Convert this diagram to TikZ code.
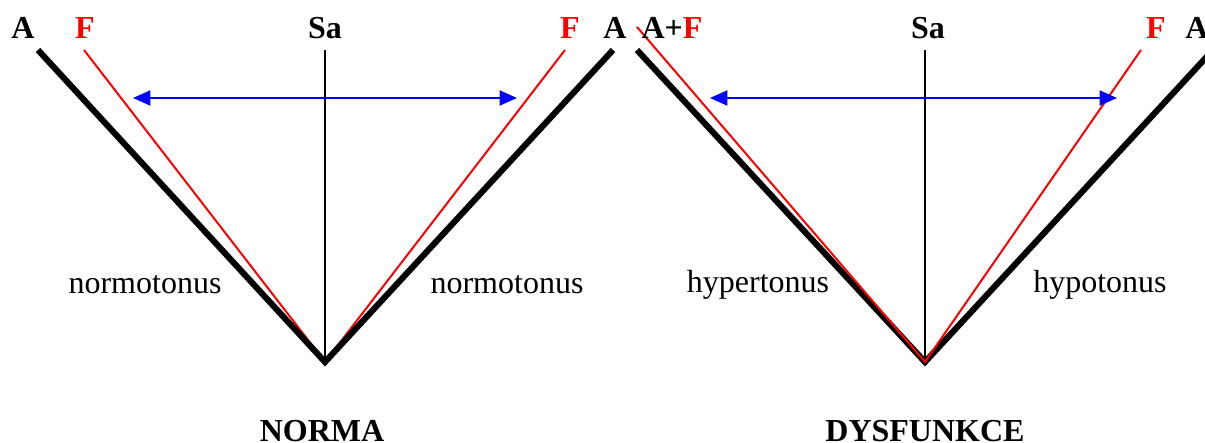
\documentclass[tikz,border=0pt]{standalone}
\usepackage{fontspec}
\setmainfont{Liberation Serif}
\usepackage{xcolor}
\usetikzlibrary{arrows.meta,positioning}

\begin{document}
\begin{tikzpicture}[
  x=0.375pt,y=-0.375pt,
  font=\fontsize{12}{14}\selectfont,
  lbl/.style={font=\fontsize{12}{14}\selectfont\bfseries,inner sep=0pt},
  flbl/.style={lbl,text=red},
  tone/.style={inner sep=0pt},
  muscle/.style={line width=2.3pt,black},
  force/.style={line width=0.75pt,red},
  axis/.style={line width=0.75pt,black},
  span/.style={{Triangle[length=6.5pt,width=5.6pt]}-{Triangle[length=6.5pt,width=5.6pt]},line width=0.8pt,blue},
]
\useasboundingbox (0,0) rectangle (1205,443);

% Norma (left)
\coordinate (nv) at (325,362);
\coordinate (naL) at (38,50);
\coordinate (nfL) at (84,50);
\coordinate (ns) at (325,50);
\coordinate (nfR) at (565,50);
\coordinate (naR) at (613,50);
\coordinate (nar1) at (133,98);
\coordinate (nar2) at (517,98);

\draw[axis] (ns) -- (nv);
\draw[force] (nfL) -- (nv) -- (nfR);
\draw[muscle] (naL) -- (nv) -- (naR);
\draw[span] (nar1) -- (nar2);

\node[lbl] (nA1) at (23,28) {A};
\node[flbl] (nF1) at (85,28) {F};
\node[lbl] (nSa) at (325,28) {Sa};
\node[flbl] (nF2) at (570,28) {F};
\node[lbl] (nA2) at (615,28) {A};
\node[tone] (nt1) at (145,285) {normotonus};
\node[tone] (nt2) at (507,285) {normotonus};
\node[lbl] (norma) at (322,431) {NORMA};

% Dysfunkce (right)
\coordinate (dv) at (925,362);
\coordinate (daL) at (637,50);
\coordinate (dfL) at (637,27);
\coordinate (ds) at (925,50);
\coordinate (dfR) at (1141,50);
\coordinate (daR) at (1213,50);
\coordinate (dar1) at (710,98);
\coordinate (dar2) at (1117,98);

\draw[axis] (ds) -- (dv);
\draw[muscle] (daL) -- (dv) -- (daR);
\draw[force] (dfL) -- (dv) -- (dfR);
\draw[span] (dar1) -- (dar2);

\node[lbl] (dAF) at (672,28) {A+\textcolor{red}{F}};
\node[lbl] (dSa) at (928,28) {Sa};
\node[flbl] (dF) at (1156,28) {F};
\node[lbl] (dA) at (1197,28) {A};
\node[tone] (dt1) at (758,285) {hypertonus};
\node[tone] (dt2) at (1100,285) {hypotonus};
\node[lbl] (dysf) at (925,431) {DYSFUNKCE};
\end{tikzpicture}
\end{document}
